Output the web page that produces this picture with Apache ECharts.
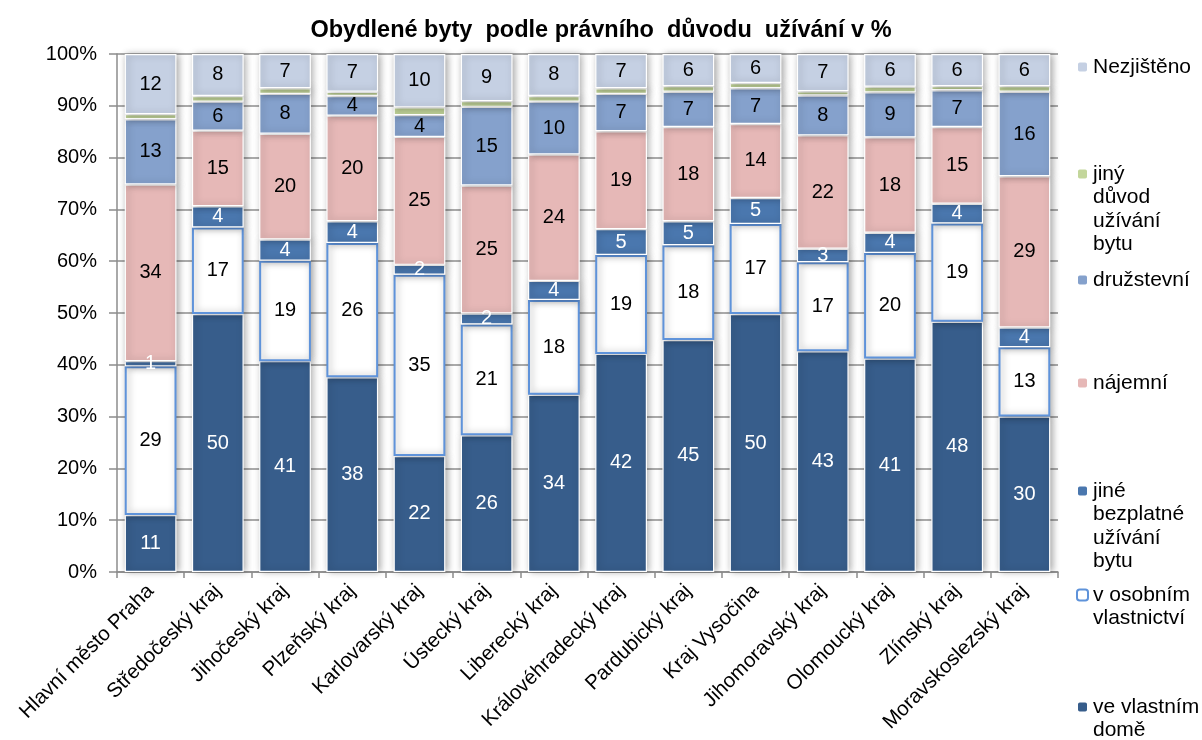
<!DOCTYPE html>
<html>
<head>
<meta charset="utf-8">
<script src="https://cdn.jsdelivr.net/npm/echarts@6/dist/echarts.min.js"></script>
<style>
  html, body { margin: 0; padding: 0; background: #fff; }
  #chart { width: 1202px; height: 740px; }
</style>
</head>
<body>
<div id="chart"></div>
<script>
// ---- data (percent, bottom segment first) ----
var categories = ['Hlavní město Praha','Středočeský kraj','Jihočeský kraj','Plzeňský kraj','Karlovarský kraj','Ústecký kraj','Liberecký kraj','Královéhradecký kraj','Pardubický kraj','Kraj Vysočina','Jihomoravský kraj','Olomoucký kraj','Zlínský kraj','Moravskoslezský kraj'];
var veVlastnimDome      = [11.0, 49.8, 40.7, 37.6, 22.4, 26.4, 34.2, 42.1, 44.8, 49.8, 42.6, 41.2, 48.3, 30.0];
var vOsobnimVlastnictvi = [28.7, 16.7, 19.4, 25.9, 35.0, 21.4, 18.3, 19.1, 18.3, 17.4, 17.2, 20.4, 19.0, 13.4];
var jineBezplatne       = [1.0, 4.1, 4.1, 4.2, 1.9, 2.1, 3.7, 5.0, 4.6, 5.0, 2.6, 3.9, 3.8, 3.8];
var najemni             = [34.1, 14.6, 20.4, 20.4, 24.7, 24.7, 24.4, 18.9, 18.2, 14.3, 21.9, 18.4, 14.8, 29.2];
var druzstevni          = [12.6, 5.6, 7.7, 3.8, 4.2, 15.2, 10.2, 7.2, 6.8, 6.9, 7.7, 8.7, 7.1, 16.3];
var jinyDuvod           = [1.0, 1.1, 1.1, 0.8, 1.5, 1.1, 1.1, 1.1, 1.1, 1.0, 0.8, 1.1, 0.8, 1.1];
var nezjisteno          = [11.6, 8.1, 6.6, 7.3, 10.3, 9.1, 8.1, 6.6, 6.2, 5.6, 7.2, 6.3, 6.2, 6.2];
var yTicks = [0, 10, 20, 30, 40, 50, 60, 70, 80, 90, 100];

var seriesNames = ['ve vlastním domě','v osobním vlastnictví','jiné bezplatné užívání bytu','nájemní','družstevní','jiný důvod užívání bytu','Nezjištěno'];
var legendLines = {
  'Nezjištěno': ['Nezjištěno'],
  'jiný důvod užívání bytu': ['jiný', 'důvod', 'užívání', 'bytu'],
  'družstevní': ['družstevní'],
  'nájemní': ['nájemní'],
  'jiné bezplatné užívání bytu': ['jiné', 'bezplatné', 'užívání', 'bytu'],
  'v osobním vlastnictví': ['v osobním', 'vlastnictví'],
  've vlastním domě': ['ve vlastním', 'domě']
};

var FONT = '"Liberation Sans", Arial, sans-serif';
var LH = 23.5;

function makeSeries(name, data, color, labelColor, showLabel, border) {
  return {
    name: name,
    type: 'bar',
    stack: 'total',
    barWidth: '77%',
    data: data,
    itemStyle: {
      color: color,
      borderColor: border ? border : '#ffffff',
      borderWidth: border ? 2 : 1.2,
      shadowBlur: 7,
      shadowColor: 'rgba(0,0,0,0.35)',
      shadowOffsetX: 2,
      shadowOffsetY: 0
    },
    label: {
      show: showLabel,
      position: 'inside',
      color: labelColor,
      fontFamily: FONT,
      fontSize: 20,
      formatter: function (p) { return Math.round(p.value); }
    },
    emphasis: { disabled: true }
  };
}

var series = [
  makeSeries(seriesNames[0], veVlastnimDome, '#375D8B', '#ffffff', true),
  makeSeries(seriesNames[1], vOsobnimVlastnictvi, '#ffffff', '#000000', true, '#5F93DA'),
  makeSeries(seriesNames[2], jineBezplatne, '#4A77AE', '#ffffff', true),
  makeSeries(seriesNames[3], najemni, '#E6B8B7', '#000000', true),
  makeSeries(seriesNames[4], druzstevni, '#85A1CC', '#000000', true),
  makeSeries(seriesNames[5], jinyDuvod, '#C3D69B', '#000000', false),
  makeSeries(seriesNames[6], nezjisteno, '#C5D0E3', '#000000', true)
];

// legend: one component per entry; icon centred on the first text line
var legendLayout = [
  ['Nezjištěno', 67],
  ['jiný důvod užívání bytu', 174],
  ['družstevní', 280],
  ['nájemní', 383],
  ['jiné bezplatné užívání bytu', 491],
  ['v osobním vlastnictví', 595],
  ['ve vlastním domě', 707]
];
var legends = legendLayout.map(function (e) {
  var lines = legendLines[e[0]];
  var n = lines.length;
  var pad = [];
  for (var i = 0; i < n - 1; i++) pad.push(' ');
  var txt = pad.concat(lines).join('\n');
  return {
    data: [e[0]],
    orient: 'vertical',
    left: 1076,
    top: e[1] - (2 * n - 1) * LH / 2,
    padding: 0,
    itemWidth: 11,
    itemHeight: 11,
    selectedMode: false,
    formatter: function () { return txt; },
    textStyle: {
      fontFamily: FONT,
      fontSize: 21,
      color: '#000',
      lineHeight: LH
    }
  };
});

var chart = echarts.init(document.getElementById('chart'), null, { renderer: 'canvas' });
chart.setOption({
  backgroundColor: '#ffffff',
  animation: false,
  textStyle: { fontFamily: FONT },
  title: {
    text: 'Obydlené byty  podle právního  důvodu  užívání v %',
    left: 596,
    textAlign: 'center',
    top: 14,
    textStyle: { fontFamily: FONT, fontSize: 23.5, fontWeight: 'bold', color: '#000' }
  },
  legend: legends,
  grid: { left: 117, right: 144, top: 54, bottom: 168, containLabel: false },
  xAxis: {
    type: 'category',
    data: categories,
    axisLine: { show: true, lineStyle: { color: '#8c8c8c', width: 1.5 } },
    axisTick: { show: true, length: 6, interval: 0, lineStyle: { color: '#8c8c8c', width: 1.5 } },
    axisLabel: {
      interval: 0,
      rotate: 45,
      margin: 16,
      fontFamily: FONT,
      fontSize: 20.5,
      color: '#000'
    },
    splitLine: { show: false }
  },
  yAxis: {
    type: 'value',
    min: yTicks[0],
    max: yTicks[yTicks.length - 1],
    interval: 10,
    axisLine: { show: true, lineStyle: { color: '#8c8c8c', width: 1.5 } },
    axisTick: { show: true, length: 8, lineStyle: { color: '#8c8c8c', width: 1.5 } },
    axisLabel: {
      formatter: '{value}%',
      margin: 20,
      fontFamily: FONT,
      fontSize: 20,
      color: '#000'
    },
    splitLine: { show: true, lineStyle: { color: '#8f8f8f', width: 1.5 } }
  },
  series: series
});
</script>
</body>
</html>
